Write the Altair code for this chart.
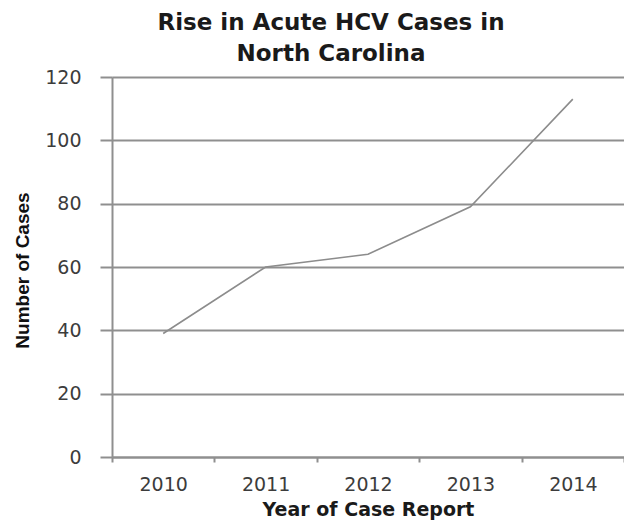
import altair as alt
import pandas as pd

years = ["2010", "2011", "2012", "2013", "2014"]
cases = [39, 60, 64, 79, 113]
y_ticks = [0, 20, 40, 60, 80, 100, 120]

df = pd.DataFrame({"year": years, "cases": cases})

GRID = "#8f8f8f"
TXT = "#3c3c3c"

chart = (
    alt.Chart(df)
    .mark_line(color="#8c8c8c", strokeWidth=1.6)
    .encode(
        x=alt.X(
            "year:N",
            sort=years,
            scale=alt.Scale(type="band", paddingInner=0, paddingOuter=0),
            axis=alt.Axis(
                title="Year of Case Report",
                titleFont="DejaVu Sans",
                titleFontWeight="bold",
                titleFontSize=19,
                titleColor="#1a1a1a",
                titlePadding=6,
                labelAngle=0,
                labelFont="DejaVu Sans",
                labelFontSize=19,
                labelColor=TXT,
                labelPadding=13,
                tickBand="extent",
                tickSize=5,
                tickColor=GRID,
                tickWidth=2,
                domainColor=GRID,
                domainWidth=2,
                grid=False,
            ),
        ),
        y=alt.Y(
            "cases:Q",
            scale=alt.Scale(domain=[0, 120], nice=False, zero=True),
            axis=alt.Axis(
                title="Number of Cases",
                titleFont="Liberation Sans",
                titleFontWeight="bold",
                titleFontSize=19,
                titleColor="#111111",
                titleAngle=-90,
                titleX=-90,
                titleY=193,
                titleBaseline="middle",
                titleAlign="center",
                values=y_ticks,
                labelFont="DejaVu Sans",
                labelFontSize=19,
                labelColor=TXT,
                labelPadding=19,
                tickSize=12,
                tickColor=GRID,
                tickWidth=2,
                domainColor=GRID,
                domainWidth=2,
                grid=True,
                gridColor=GRID,
                gridWidth=2,
            ),
        ),
    )
    .properties(
        width=512,
        height=380,
        autosize=alt.AutoSizeParams(type="none"),
        padding={"left": 104, "top": 69, "right": 0, "bottom": 67},
        title=alt.TitleParams(
            text=["Rise in Acute HCV Cases in", "North Carolina"],
            font="DejaVu Sans",
            fontWeight="bold",
            fontSize=23,
            color="#1a1a1a",
            lineHeight=31,
            anchor="middle",
            dx=-37,
            offset=2,
        ),
    )
    .configure_view(stroke=None)
    .configure(background="white")
)

chart.save("out.html", embed_options={"renderer": "svg", "actions": False})
